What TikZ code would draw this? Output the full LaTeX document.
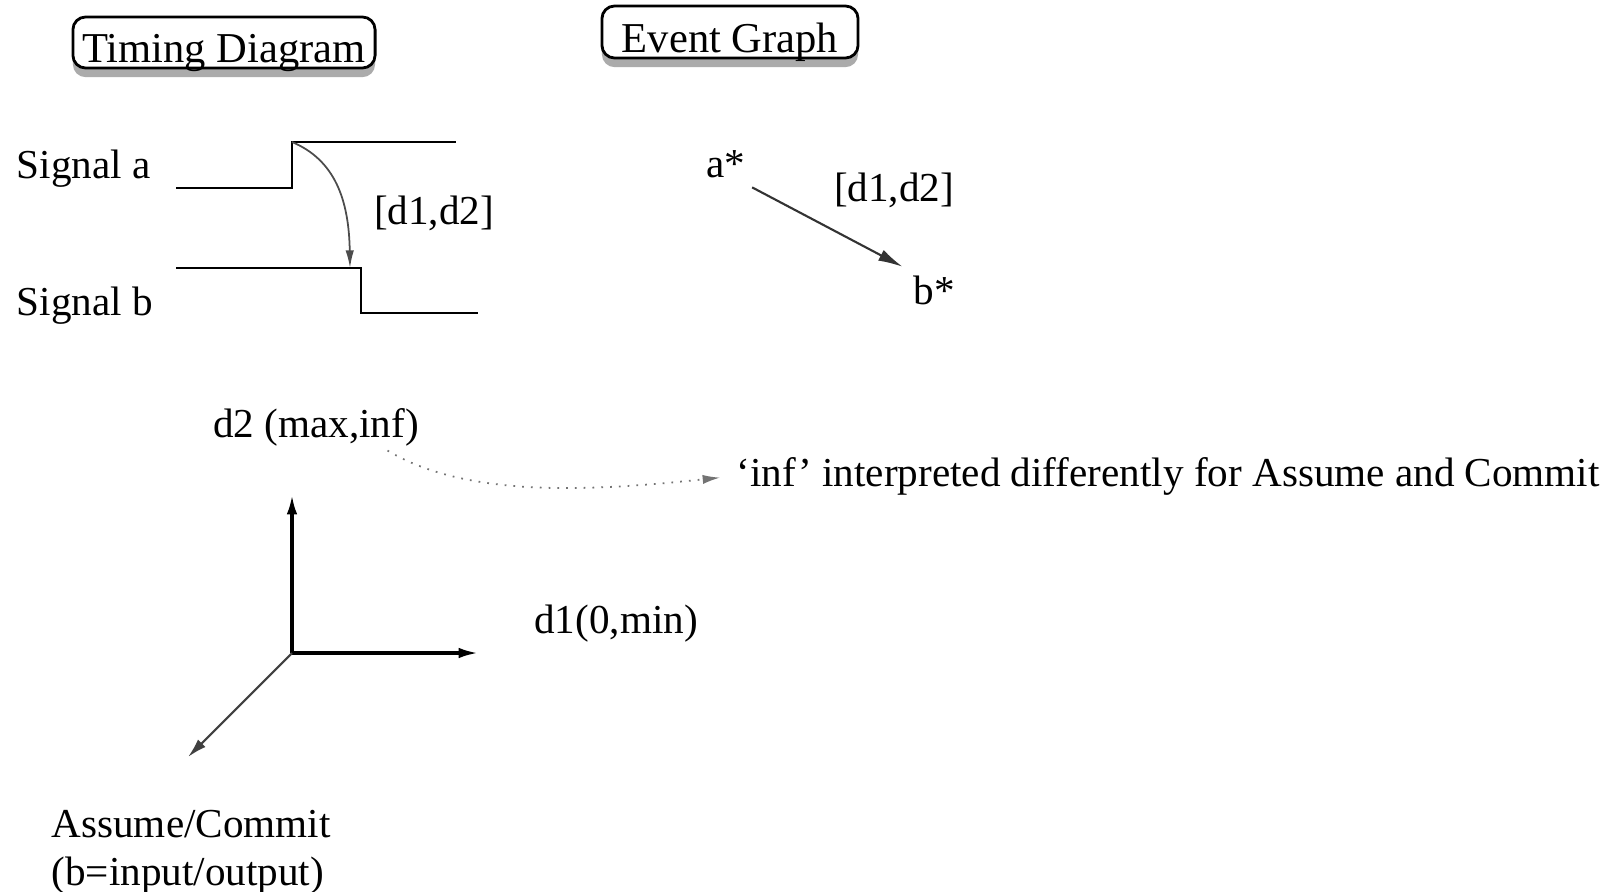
\documentclass[tikz,border=0pt]{standalone}
\usepackage{fontspec}
\setmainfont{Liberation Serif}
\usetikzlibrary{arrows.meta,shadows,calc}
\begin{document}
\begin{tikzpicture}[x=0.01cm,y=-0.01cm,
  every node/.style={font=\fontsize{11.7}{13.6}\selectfont, inner sep=0pt},
  titlebox/.style={draw, line width=0.8pt, rounded corners=3.6pt, fill=white,
    font=\fontsize{12.1}{14}\selectfont,
    drop shadow={shadow xshift=0pt, shadow yshift=-2.6pt, fill=black!33, opacity=1}},
  wave/.style={line width=0.8pt, line join=miter},
  axisarrow/.style={line width=0.9pt, -{Latex[length=5.5pt,width=3pt]}},
  diagarrow/.style={line width=0.6pt, black!75, -{Latex[length=5.5pt,width=3pt]}},
  delayarrow/.style={line width=0.5pt, black!70, -{Latex[length=5pt,width=2.4pt]}},
  evarrow/.style={line width=0.6pt, black!80, -{Latex[length=7pt,width=3.4pt]}},
  notearrow/.style={line width=0.5pt, black!55, dotted, -{Latex[length=5pt,width=2.6pt]}}
]
\useasboundingbox (0,0) rectangle (1607,891);

% titles
\node[titlebox, minimum width=3.02cm, minimum height=0.51cm] (timing) at (224,42.5)
  {\raisebox{-5.6pt}[0pt][0pt]{Timing Diagram}};
\node[titlebox, minimum width=2.56cm, minimum height=0.52cm] (event) at (730,32)
  {\raisebox{-5.9pt}[0pt][0pt]{Event Graph}};

% timing diagram
\node[anchor=west] (siga) at (16,169) {Signal a};
\node[anchor=west] (sigb) at (16,306) {Signal b};
\coordinate (a0) at (176,188);
\coordinate (a1) at (292,188);
\coordinate (a2) at (292,142);
\coordinate (a3) at (456,142);
\draw[wave] (a0) -- (a1) -- (a2) -- (a3);
\coordinate (b0) at (176,268);
\coordinate (b1) at (361,268);
\coordinate (b2) at (361,313);
\coordinate (b3) at (478,313);
\draw[wave] (b0) -- (b1) -- (b2) -- (b3);
\coordinate (bhit) at (350,268);
\draw[delayarrow] (a2) .. controls (335,160) and (349,200) .. (bhit);
\node (dd) at (434,213) {[d1,d2]};

% event graph
\node (astar) at (726,164) {a*};
\node (dde) at (894,190) {[d1,d2]};
\node (bstar) at (934,290) {b*};
\draw[evarrow] ($(astar.south east)+(6,9)$) -- ($(bstar.north west)+(-10,-8)$);

% axes
\node (d2) at (316,427) {d2 (max,inf)};
\node[anchor=west] (infnote) at (736,476) {‘inf’ interpreted differently for Assume and Commit};
\draw[notearrow, shorten >=4.5pt] ($(d2.south east)+(-32,4)$) .. controls (470,500) and (600,490) .. (infnote.west);
\coordinate (o) at (292,653);
\coordinate (yend) at (292,495);
\coordinate (xend) at (478,653);
\coordinate (zend) at (188,757);
\draw[axisarrow] (o) -- (yend);
\draw[axisarrow] (o) -- (xend);
\draw[diagarrow] (o) -- (zend);
\node (d1) at (616,624) {d1(0,min)};
\node[align=left, anchor=west] (ac) at (51,852) {Assume/Commit\\(b=input/output)};
\end{tikzpicture}
\end{document}
